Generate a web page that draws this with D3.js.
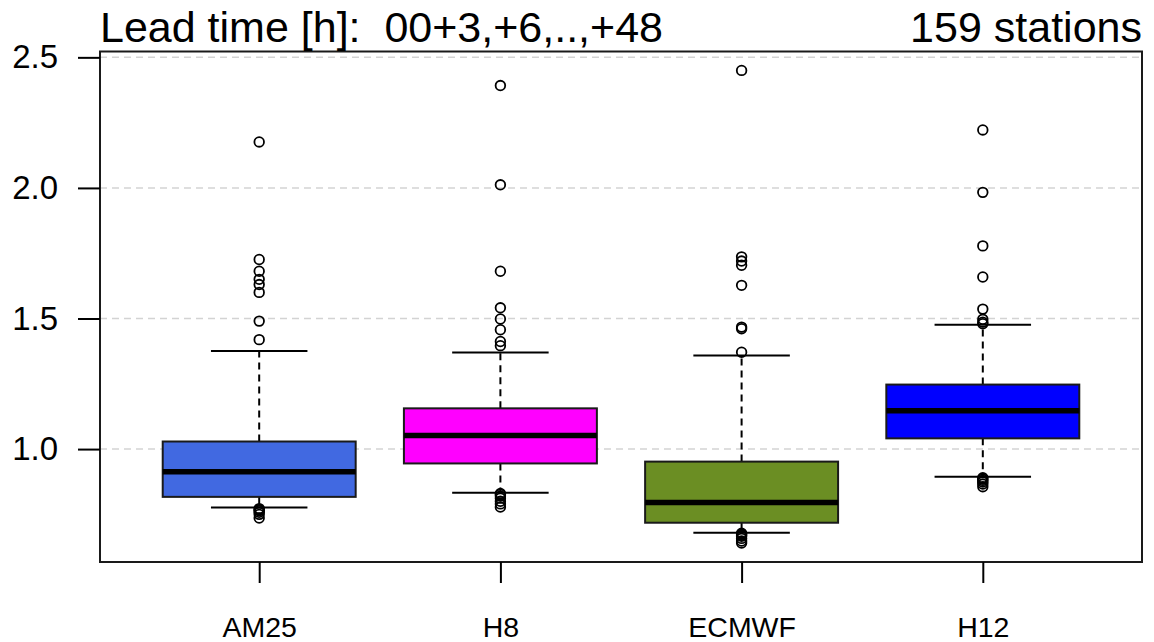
<!DOCTYPE html>
<html>
<head>
<meta charset="utf-8">
<script src="https://cdn.jsdelivr.net/npm/d3@7"></script>
<style>
  html, body { margin: 0; padding: 0; background: #fff; }
  svg { display: block; font-family: "Liberation Sans", Arial, Helvetica, sans-serif; }
  .title { white-space: pre; }
</style>
</head>
<body>
<svg id="chart" width="1154" height="642"></svg>
<script>
// ---- data ----
const categories = ["AM25", "H8", "ECMWF", "H12"];
const boxColors = ["#4169E1", "#FF00FF", "#6B8E23", "#0000FF"];
const whiskerLow = [0.776, 0.833, 0.680, 0.894];
const q1 = [0.817, 0.945, 0.718, 1.041];
const medians = [0.913, 1.052, 0.795, 1.147];
const q3 = [1.029, 1.156, 0.952, 1.247];
const whiskerHigh = [1.376, 1.370, 1.358, 1.476];
const outliersAM25 = [2.176, 1.726, 1.681, 1.650, 1.630, 1.600, 1.490, 1.419,
                      0.772, 0.768, 0.764, 0.758, 0.750, 0.736];
const outliersH8 = [2.392, 2.012, 1.681, 1.541, 1.498, 1.457, 1.412, 1.396,
                    0.830, 0.826, 0.820, 0.812, 0.800, 0.790, 0.778];
const outliersECMWF = [2.450, 1.736, 1.720, 1.704, 1.627, 1.467, 1.461, 1.371,
                       0.678, 0.674, 0.670, 0.666, 0.658, 0.648, 0.640];
const outliersH12 = [2.222, 1.983, 1.778, 1.659, 1.536, 1.497, 1.486, 1.480,
                     0.890, 0.885, 0.880, 0.874, 0.866, 0.856];
const outliers = [outliersAM25, outliersH8, outliersECMWF, outliersH12];
const yTickValues = [1.0, 1.5, 2.0, 2.5];
const titleLeft = "Lead time [h]:  00+3,+6,..,+48";
const titleRight = "159 stations";

// ---- layout ----
const svg = d3.select("#chart");
const mLeft = 100, mRight = 1142, mTop = 51.5, mBottom = 562;

const allVals = [].concat(whiskerLow, whiskerHigh, ...outliers);
const [vmin, vmax] = d3.extent(allVals);
const pad = (vmax - vmin) * 0.04;
const y = d3.scaleLinear().domain([vmin - pad, vmax + pad]).range([mBottom, mTop]);
const n = categories.length;
const xpad = n * 0.04;
const x = d3.scaleLinear().domain([0.5 - xpad, n + 0.5 + xpad]).range([mLeft, mRight]);

// grid lines
svg.append("g").selectAll("line").data(yTickValues).join("line")
  .attr("x1", mLeft).attr("x2", mRight)
  .attr("y1", d => y(d)).attr("y2", d => y(d))
  .attr("stroke", "#d3d3d3").attr("stroke-width", 1.5)
  .attr("stroke-dasharray", "7,5");

// boxes
const idx = d3.range(n);
const g = svg.append("g");
const halfBox = 0.4, halfCap = 0.2;

idx.forEach(i => {
  const cx = x(i + 1);
  const grp = g.append("g");
  grp.append("line").attr("x1", cx).attr("x2", cx)
    .attr("y1", y(q3[i])).attr("y2", y(whiskerHigh[i]))
    .attr("stroke", "#000").attr("stroke-width", 2).attr("stroke-dasharray", "7,5");
  grp.append("line").attr("x1", cx).attr("x2", cx)
    .attr("y1", y(q1[i])).attr("y2", y(whiskerLow[i]))
    .attr("stroke", "#000").attr("stroke-width", 2).attr("stroke-dasharray", "7,5");
  [whiskerHigh[i], whiskerLow[i]].forEach(v => {
    grp.append("line")
      .attr("x1", x(i + 1 - halfCap)).attr("x2", x(i + 1 + halfCap))
      .attr("y1", y(v)).attr("y2", y(v))
      .attr("stroke", "#000").attr("stroke-width", 2);
  });
  grp.append("rect")
    .attr("x", x(i + 1 - halfBox)).attr("width", x(i + 1 + halfBox) - x(i + 1 - halfBox))
    .attr("y", y(q3[i])).attr("height", y(q1[i]) - y(q3[i]))
    .attr("fill", boxColors[i]).attr("stroke", "#1a1a1a").attr("stroke-width", 2);
  grp.append("line")
    .attr("x1", x(i + 1 - halfBox)).attr("x2", x(i + 1 + halfBox))
    .attr("y1", y(medians[i])).attr("y2", y(medians[i]))
    .attr("stroke", "#000").attr("stroke-width", 5.5);
  grp.selectAll("circle").data(outliers[i]).join("circle")
    .attr("cx", cx).attr("cy", d => y(d)).attr("r", 4.8)
    .attr("fill", "none").attr("stroke", "#000").attr("stroke-width", 1.8);
});

// frame
svg.append("rect").attr("x", mLeft).attr("y", mTop)
  .attr("width", mRight - mLeft).attr("height", mBottom - mTop)
  .attr("fill", "none").attr("stroke", "#1a1a1a").attr("stroke-width", 2);

// y axis
const yAxis = d3.axisLeft(y).tickValues(yTickValues).tickFormat(d3.format(".1f"))
  .tickSize(22).tickPadding(20);
const yg = svg.append("g").attr("transform", `translate(${mLeft},0)`).call(yAxis);
yg.select(".domain").remove();
yg.selectAll(".tick line").attr("stroke", "#000").attr("stroke-width", 2);
yg.selectAll(".tick text").attr("font-size", 33).attr("fill", "#000")
  .attr("font-family", "Liberation Sans, Arial, sans-serif");

// x axis
const xAxis = d3.axisBottom(x).tickValues(idx.map(i => i + 1))
  .tickFormat(d => categories[d - 1]).tickSize(21).tickPadding(34);
const xg = svg.append("g").attr("transform", `translate(0,${mBottom})`).call(xAxis);
xg.select(".domain").remove();
xg.selectAll(".tick line").attr("stroke", "#000").attr("stroke-width", 2);
xg.selectAll(".tick text").attr("font-size", 28.5).attr("fill", "#000")
  .attr("font-family", "Liberation Sans, Arial, sans-serif");

// titles
svg.append("text").attr("class", "title").attr("x", mLeft).attr("y", 42).text(titleLeft)
  .attr("font-size", 43).attr("fill", "#000");
svg.append("text").attr("class", "title").attr("x", mRight).attr("y", 42)
  .attr("text-anchor", "end").text(titleRight)
  .attr("font-size", 43).attr("fill", "#000");
</script>
</body>
</html>
